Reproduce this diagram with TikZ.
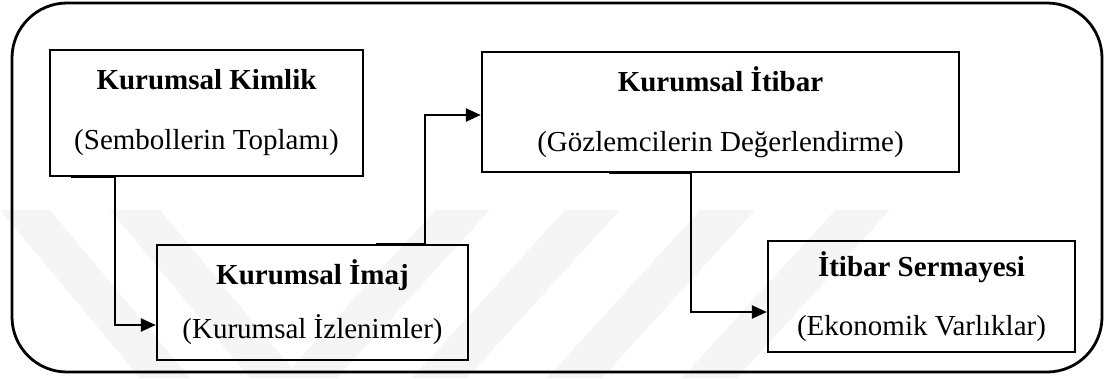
\documentclass[tikz,border=0pt]{standalone}
\usepackage{fontspec}
\setmainfont{Liberation Serif}
\usetikzlibrary{arrows.meta,calc}
\begin{document}
\begin{tikzpicture}[x=1pt,y=-1pt,
  box/.style={draw,line width=2.4pt,rectangle,inner sep=0pt,align=center},
  link/.style={line width=2.4pt,-{Triangle[length=15pt,width=13pt]}},
  band/.style={fill=black!4,draw=none}]
\useasboundingbox (0,0) rectangle (1105,378);
% faint diagonal bands in the background
\begin{scope}
  \clip (0,0) rectangle (1105,378);
  \foreach \a in {0,110}{
    \fill[band] (\a,210) -- ++(50,0) -- ++(140,168) -- ++(-50,0) -- cycle;}
  \foreach \a in {435,565,700,835}{
    \fill[band] (\a,210) -- ++(55,0) -- ++(-153,168) -- ++(-55,0) -- cycle;}
\end{scope}
% outer frame
\draw[line width=2.8pt,rounded corners=55pt] (12,3) rectangle (1102,372);
% boxes
\node[box,minimum width=313pt,minimum height=126pt,font=\fontsize{29}{60}\selectfont]
  (kimlik) at (206.5,113) {\textbf{Kurumsal Kimlik}\\(Sembollerin Toplamı)};
\node[box,minimum width=311pt,minimum height=115pt,font=\fontsize{29}{54}\selectfont]
  (imaj) at (312.5,302.5) {\textbf{Kurumsal İmaj}\\(Kurumsal İzlenimler)};
\node[box,minimum width=477pt,minimum height=120pt,font=\fontsize{29}{60}\selectfont]
  (itibar) at (720.5,112) {\textbf{Kurumsal İtibar}\\(Gözlemcilerin Değerlendirme)};
\node[box,minimum width=307pt,minimum height=111pt,font=\fontsize{29}{59}\selectfont]
  (sermaye) at (921.5,296.5) {\textbf{İtibar Sermayesi}\\(Ekonomik Varlıklar)};
% connectors
\draw[link] ([xshift=22pt]kimlik.south west) -- ([xshift=66pt]kimlik.south west)
  |- ([yshift=-22.5pt]imaj.west);
\draw[link] ([xshift=220pt]imaj.north west) -- ([xshift=269pt]imaj.north west)
  |- ([yshift=-3pt]itibar.west);
\draw[link] ([xshift=128pt]itibar.south west) -- ([xshift=210pt]itibar.south west)
  |- ([yshift=-15.5pt]sermaye.west);
\end{tikzpicture}
\end{document}
